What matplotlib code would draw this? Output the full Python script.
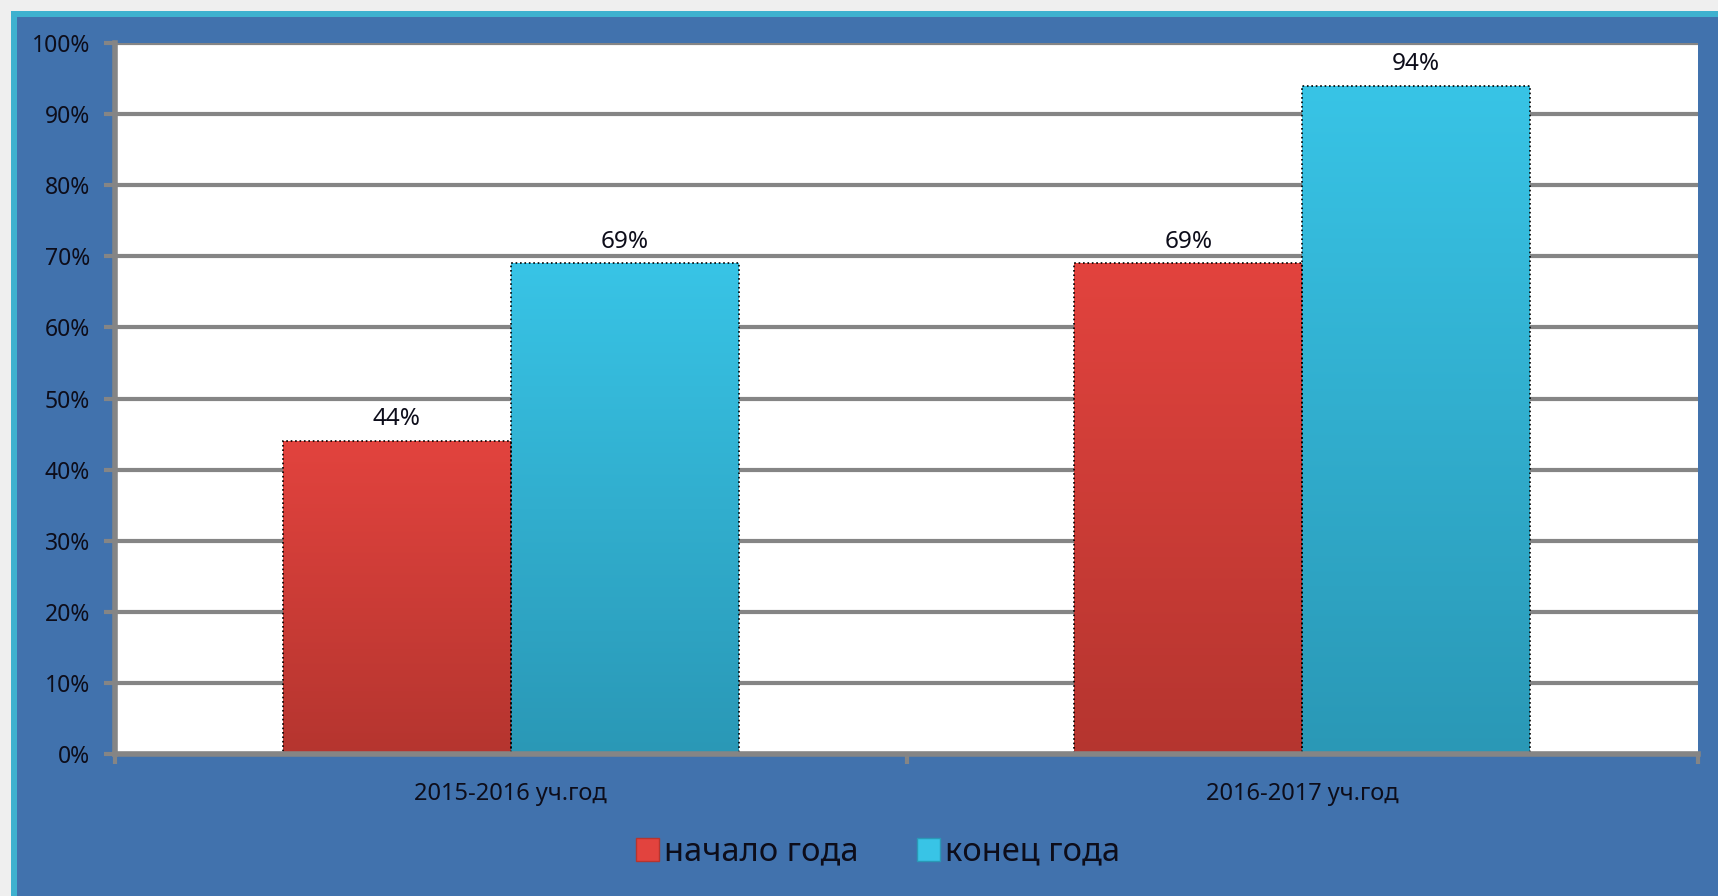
import numpy as np
import matplotlib
matplotlib.use('Agg')
import matplotlib.pyplot as plt
from matplotlib.patches import Rectangle
from matplotlib.colors import LinearSegmentedColormap

plt.rcParams['font.family'] = ['Noto Sans', 'DejaVu Sans']

categories = ['2015-2016 уч.год', '2016-2017 уч.год']
series_names = ['начало года', 'конец года']
start_vals = [44, 69]
end_vals = [69, 94]
yticks = list(range(0, 101, 10))

PANEL = '#4172ad'
BORDER = '#3eb1cf'
GRID = '#858585'
TXT = '#0d0d1a'
red_top, red_bot = '#e2433e', '#b5352f'
cyan_top, cyan_bot = '#38c4e6', '#2a98b6'

W, H = 1718, 896
fig = plt.figure(figsize=(W / 100, H / 100), dpi=100)
fig.patch.set_facecolor('#efefef')

# blue panel with teal border on top/left
fig.add_artist(Rectangle((11 / W, 0), 1, 1 - 11 / H, transform=fig.transFigure,
                         facecolor=BORDER, edgecolor='none', zorder=0))
fig.add_artist(Rectangle((17 / W, 0), 1, 1 - 17 / H, transform=fig.transFigure,
                         facecolor=PANEL, edgecolor='none', zorder=0))

ax = fig.add_axes([115 / W, 1 - 754 / H, (1698 - 115) / W, (754 - 43) / H])
ax.set_facecolor('white')

x = np.arange(len(categories))
bw = 0.288
b1 = ax.bar(x - bw / 2, start_vals, bw, color=red_top, zorder=3,
            edgecolor='black', linestyle=':', linewidth=1.2)
b2 = ax.bar(x + bw / 2, end_vals, bw, color=cyan_top, zorder=3,
            edgecolor='black', linestyle=':', linewidth=1.2)

# vertical gradient fill clipped to each bar
grad = np.linspace(0, 1, 256).reshape(-1, 1)
for bars, top, bot in [(b1, red_top, red_bot), (b2, cyan_top, cyan_bot)]:
    cmap = LinearSegmentedColormap.from_list('g', [bot, top])
    for p in bars:
        x0, y0 = p.get_x(), p.get_y()
        im = ax.imshow(grad, cmap=cmap, aspect='auto', origin='lower',
                       extent=[x0, x0 + p.get_width(), y0, y0 + p.get_height()],
                       zorder=3.5)
        im.set_clip_path(p)
    for p in bars:
        ax.annotate(f'{int(p.get_height())}%',
                    (p.get_x() + p.get_width() / 2, p.get_height()),
                    xytext=(0, 7), textcoords='offset points',
                    ha='center', va='bottom', fontsize=17.5, color=TXT, zorder=5)

for p in list(b1) + list(b2):
    p.set_zorder(4)
    p.set_facecolor('none')

ax.set_xlim(-0.5, 1.5)
ax.set_ylim(0, 100)
ax.set_yticks(yticks)
ax.set_yticklabels([f'{t}%' for t in yticks], fontsize=16.5, color=TXT)
ax.set_xticks([-0.5, 0.5, 1.5], minor=False)
ax.set_xticklabels([])
ax.set_xticks(x, minor=True)
ax.set_xticklabels(categories, minor=True, fontsize=17, color=TXT)
ax.tick_params(axis='x', which='minor', length=0, pad=20)
ax.tick_params(axis='x', which='major', length=7, width=3, color=GRID, direction='out')
ax.tick_params(axis='y', length=8, width=3, color=GRID, pad=10)

ax.yaxis.grid(True, color=GRID, linewidth=3, zorder=1)
ax.set_axisbelow(True)
for s in ['top', 'right']:
    ax.spines[s].set_visible(False)
for s in ['left', 'bottom']:
    ax.spines[s].set_color(GRID)
    ax.spines[s].set_linewidth(4)
    ax.spines[s].set_zorder(6)

h1 = Rectangle((0, 0), 1, 1, facecolor=red_top, edgecolor=red_bot)
h2 = Rectangle((0, 0), 1, 1, facecolor=cyan_top, edgecolor=cyan_bot)
fig.legend([h1, h2], series_names, loc='center', bbox_to_anchor=(878 / W, 1 - 852 / H),
           ncol=2, frameon=False, fontsize=23.5, handlelength=0.7, handleheight=0.7,
           handletextpad=0.15, columnspacing=1.8, labelcolor=TXT)

fig.savefig('out.png', dpi=100, facecolor=fig.get_facecolor())
